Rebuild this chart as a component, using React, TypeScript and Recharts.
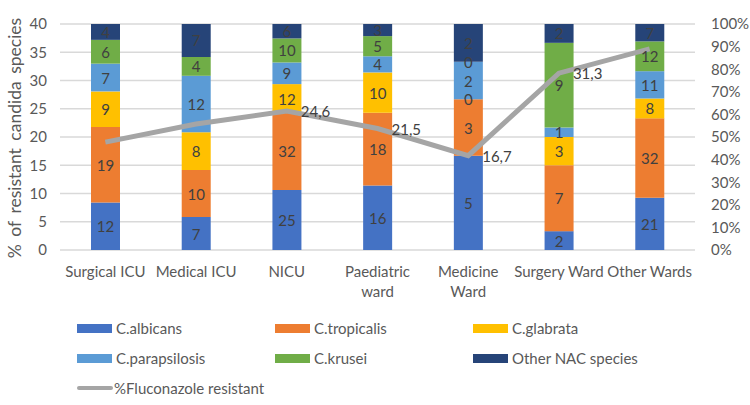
import React from "react";
import {
  ComposedChart,
  Bar,
  Line,
  XAxis,
  YAxis,
  CartesianGrid,
  Legend,
  LabelList,
  Label,
} from "recharts";

const WARDS = [
  "Surgical ICU",
  "Medical ICU",
  "NICU",
  "Paediatric\nward",
  "Medicine\nWard",
  "Surgery Ward",
  "Other Wards",
];

// isolate counts per ward
const ALBICANS = [12, 7, 25, 16, 5, 2, 21];
const TROPICALIS = [19, 10, 32, 18, 3, 7, 32];
const GLABRATA = [9, 8, 12, 10, 0, 3, 8];
const PARAPSILOSIS = [7, 12, 9, 4, 2, 1, 11];
const KRUSEI = [6, 4, 10, 5, 0, 9, 12];
const OTHER_NAC = [4, 7, 6, 3, 2, 2, 7];

const FLUCONAZOLE_RESISTANT = [19.1, 22.3, 24.6, 21.5, 16.7, 31.3, 35.6];
const SHOW_RESISTANT_LABEL = [false, false, true, true, true, true, false];

const LEFT_TICKS = [0, 5, 10, 15, 20, 25, 30, 35, 40];
const RIGHT_TICKS = [0, 10, 20, 30, 40, 50, 60, 70, 80, 90, 100];

const SPECIES = [
  { key: "albicans", name: "C.albicans", color: "#4472C4", values: ALBICANS },
  { key: "tropicalis", name: "C.tropicalis", color: "#ED7D31", values: TROPICALIS },
  { key: "glabrata", name: "C.glabrata", color: "#FFC000", values: GLABRATA },
  { key: "parapsilosis", name: "C.parapsilosis", color: "#5B9BD5", values: PARAPSILOSIS },
  { key: "krusei", name: "C.krusei", color: "#70AD47", values: KRUSEI },
  { key: "otherNac", name: "Other NAC species", color: "#264478", values: OTHER_NAC },
];

const TEXT = "#595959";
const LABEL = "#404040";
const GRID = "#D9D9D9";
const LINE = "#A5A5A5";

// each bar is stacked to 100% of the ward total; labels keep the raw counts
const data = WARDS.map((ward, i) => {
  const total = SPECIES.reduce((s, sp) => s + sp.values[i], 0);
  const row: Record<string, any> = { ward, resistant: FLUCONAZOLE_RESISTANT[i] };
  SPECIES.forEach((sp) => {
    row[sp.key] = sp.values[i];
    row[sp.key + "Pct"] = (sp.values[i] / total) * 100;
  });
  return row;
});

function WardTick({ x, y, payload }: any) {
  const lines = String(payload.value).split("\n");
  return (
    <text x={x} y={y} textAnchor="middle" fill={TEXT} fontSize={15}>
      {lines.map((l, i) => (
        <tspan key={i} x={x} dy={i === 0 ? 19 : 20}>
          {l}
        </tspan>
      ))}
    </text>
  );
}

// count label centred in its segment; an empty segment right above has no
// rect of its own, so its "0" is written on this segment's top edge
function makeCountLabel(level: number) {
  const above = SPECIES[level + 1];
  return function CountLabel({ x, y, width, height, value, index }: any) {
    if (value == null) return null;
    const cx = x + width / 2;
    return (
      <g>
        <text x={cx} y={y + height / 2} textAnchor="middle" dominantBaseline="central" fill={LABEL} fontSize={15}>
          {value}
        </text>
        {above && above.values[index] === 0 && (
          <text x={cx} y={y} textAnchor="middle" dominantBaseline="central" fill={LABEL} fontSize={15}>
            {above.values[index]}
          </text>
        )}
      </g>
    );
  };
}

function ResistantLabel({ x, y, value, index }: any) {
  if (!SHOW_RESISTANT_LABEL[index]) return null;
  return (
    <text x={x + 14} y={y + 6} fill={LABEL} fontSize={15}>
      {String(value).replace(".", ",")}
    </text>
  );
}

function AxisTitle() {
  return (
    <text
      x={17}
      y={138}
      transform="rotate(-90 17 138)"
      textAnchor="middle"
      dominantBaseline="middle"
      fill={TEXT}
      fontSize={17.5}
      style={{ wordSpacing: 3 }}
    >
      % of resistant candida species
    </text>
  );
}

const COLS = [77, 275, 473];
const ROWS = [15, 45, 75];

function SpeciesLegend() {
  return (
    <div style={{ position: "relative", width: 750, height: 90, fontSize: 15, color: TEXT }}>
      {SPECIES.map((sp, i) => (
        <div
          key={sp.key}
          style={{
            position: "absolute",
            left: COLS[i % 3],
            top: ROWS[Math.floor(i / 3)] - 10,
            height: 20,
            display: "flex",
            alignItems: "center",
            whiteSpace: "nowrap",
          }}
        >
          <span style={{ width: 35, height: 9, background: sp.color, marginRight: 4 }} />
          {sp.name}
        </div>
      ))}
      <div
        style={{
          position: "absolute",
          left: COLS[0],
          top: ROWS[2] - 10,
          height: 20,
          display: "flex",
          alignItems: "center",
          whiteSpace: "nowrap",
        }}
      >
        <span style={{ width: 36, height: 4, borderRadius: 2, background: LINE, marginRight: 1 }} />
        %Fluconazole resistant
      </div>
    </div>
  );
}

const countLabels = SPECIES.map((_, level) => makeCountLabel(level));

export default function App() {
  return (
    <div style={{ position: "absolute", left: 0, top: 0, fontFamily: "Lato, 'Open Sans', sans-serif" }}>
      <ComposedChart
        width={750}
        height={405}
        data={data}
        margin={{ top: 24, right: 0, bottom: 2, left: 0 }}
      >
        <CartesianGrid yAxisId="left" vertical={false} stroke={GRID} strokeWidth={1.5} />
        <XAxis
          dataKey="ward"
          height={63}
          tickLine={false}
          axisLine={false}
          interval={0}
          tick={<WardTick />}
        />
        <YAxis
          yAxisId="left"
          width={60}
          domain={[0, 40]}
          ticks={LEFT_TICKS}
          axisLine={false}
          tickLine={false}
          tickMargin={7}
          tick={{ fill: TEXT, fontSize: 15 }}
        >
          <Label content={<AxisTitle />} />
        </YAxis>
        <YAxis
          yAxisId="right"
          orientation="right"
          width={55}
          domain={[0, 100]}
          ticks={RIGHT_TICKS}
          axisLine={false}
          tickLine={false}
          tickMargin={10}
          tickFormatter={(v: number) => `${v}%`}
          tick={{ fill: TEXT, fontSize: 15 }}
        />
        {SPECIES.map((sp, level) => {
          const CountLabel = countLabels[level];
          return (
            <Bar
              key={sp.key}
              yAxisId="right"
              dataKey={sp.key + "Pct"}
              name={sp.name}
              stackId="ward"
              fill={sp.color}
              barSize={29}
              isAnimationActive={false}
            >
              <LabelList dataKey={sp.key} content={<CountLabel />} />
            </Bar>
          );
        })}
        <Line
          yAxisId="left"
          type="linear"
          dataKey="resistant"
          name="%Fluconazole resistant"
          stroke={LINE}
          strokeWidth={5}
          dot={false}
          isAnimationActive={false}
        >
          <LabelList dataKey="resistant" content={<ResistantLabel />} />
        </Line>
        <Legend
          verticalAlign="bottom"
          content={<SpeciesLegend />}
          wrapperStyle={{ left: 0, top: 313, width: 750, height: 90 }}
        />
      </ComposedChart>
    </div>
  );
}
